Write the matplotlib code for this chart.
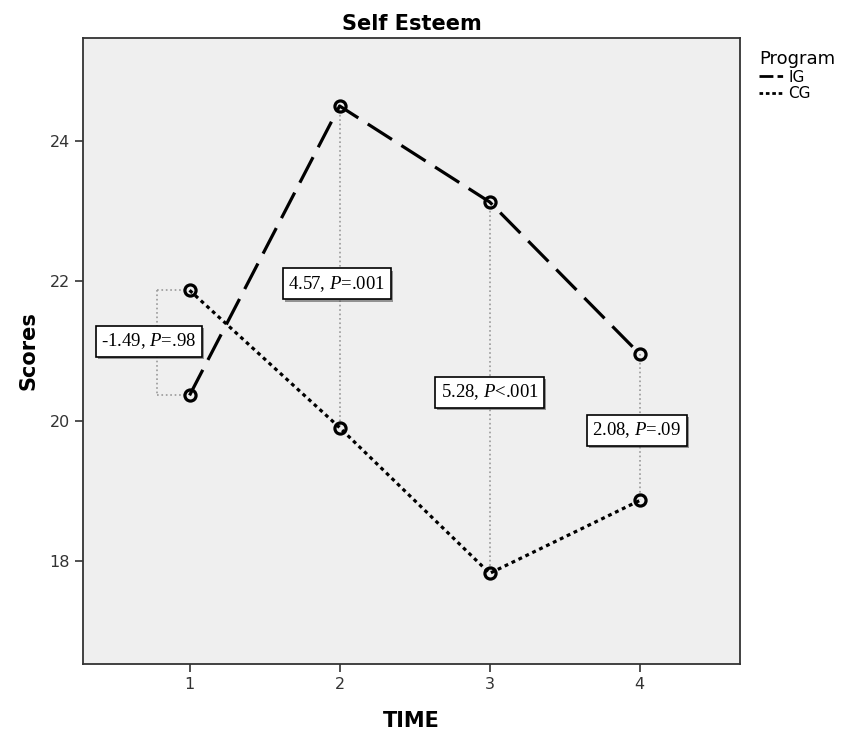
import numpy as np
import matplotlib
matplotlib.use('Agg')
from matplotlib import pyplot as plt
from matplotlib import patheffects as pe

time = [1, 2, 3, 4]
ig = [20.37, 24.50, 23.13, 20.96]
cg = [21.87, 19.91, 17.83, 18.87]

labels = ['-1.49, $\\mathit{P}$=.98', '4.57, $\\mathit{P}$=.001',
          '5.28, $\\mathit{P}$<.001', '2.08, $\\mathit{P}$=.09']
label_x = [0.73, 1.98, 3.0, 3.98]
label_y = [21.14, 21.96, 20.41, 19.87]

plt.rcParams['mathtext.fontset'] = 'custom'
plt.rcParams['mathtext.it'] = 'Liberation Serif:italic'
plt.rcParams['mathtext.rm'] = 'Liberation Serif'

fig = plt.figure(figsize=(8.47, 7.31), dpi=100)
ax = fig.add_axes([0.098, 0.092, 0.776, 0.856])
ax.set_facecolor('#efefef')

# difference lines
ax.plot([0.78, 0.78], [cg[0], ig[0]], ':', color='#999999', lw=1.2)
ax.plot([0.78, 0.98], [cg[0], cg[0]], ':', color='#999999', lw=1.2)
ax.plot([0.78, 0.98], [ig[0], ig[0]], ':', color='#999999', lw=1.2)
for t, a, b in zip(time[1:], ig[1:], cg[1:]):
    ax.plot([t, t], [a, b], ':', color='#999999', lw=1.2)

ax.plot(time, ig, color='black', lw=2.3, dashes=(9, 3.5), marker='o', ms=8,
        mfc='none', mec='black', mew=2.3, label='IG')
ax.plot(time, cg, color='black', lw=2.3, dashes=(1.2, 1.2), marker='o', ms=8,
        mfc='none', mec='black', mew=2.3, label='CG')

for x, y, s in zip(label_x, label_y, labels):
    t = ax.text(x, y, s, ha='center', va='center', fontsize=13.5,
                family='Liberation Serif',
                bbox=dict(boxstyle='square,pad=0.3', fc='white', ec='black', lw=1.2))
    t.get_bbox_patch().set_path_effects([pe.SimplePatchShadow(offset=(1.5, -1.5), shadow_rgbFace='#555555', alpha=0.6), pe.Normal()])

ax.set_xlim(0.29, 4.67)
ax.set_ylim(16.54, 25.47)
ax.set_xticks(time)
ax.set_yticks([18, 20, 22, 24])
ax.tick_params(labelsize=11.5, length=6, width=1.2, colors='#333333')
for s in ax.spines.values():
    s.set_linewidth(1.3)
    s.set_color('#333333')

ax.set_title('Self Esteem', fontsize=15, fontweight='bold', pad=6)
ax.set_ylabel('Scores', fontsize=15, fontweight='bold', labelpad=8)
ax.set_xlabel('TIME', fontsize=15, fontweight='bold', labelpad=14)

leg = fig.legend(loc='upper left', bbox_to_anchor=(0.88, 0.95), frameon=False,
                 title='Program', fontsize=11, handlelength=1.6, handletextpad=0.3,
                 labelspacing=0.1, title_fontsize=13)
leg._legend_box.align = 'left'
hs = leg.legend_handles
for h in hs:
    h.set_marker('')
    h.set_linewidth(2)
hs[0].set_linestyle((0, (5, 1.5, 2, 1.5)))
hs[1].set_linestyle((0, (1.3, 1)))

fig.savefig('out.png', dpi=100)
